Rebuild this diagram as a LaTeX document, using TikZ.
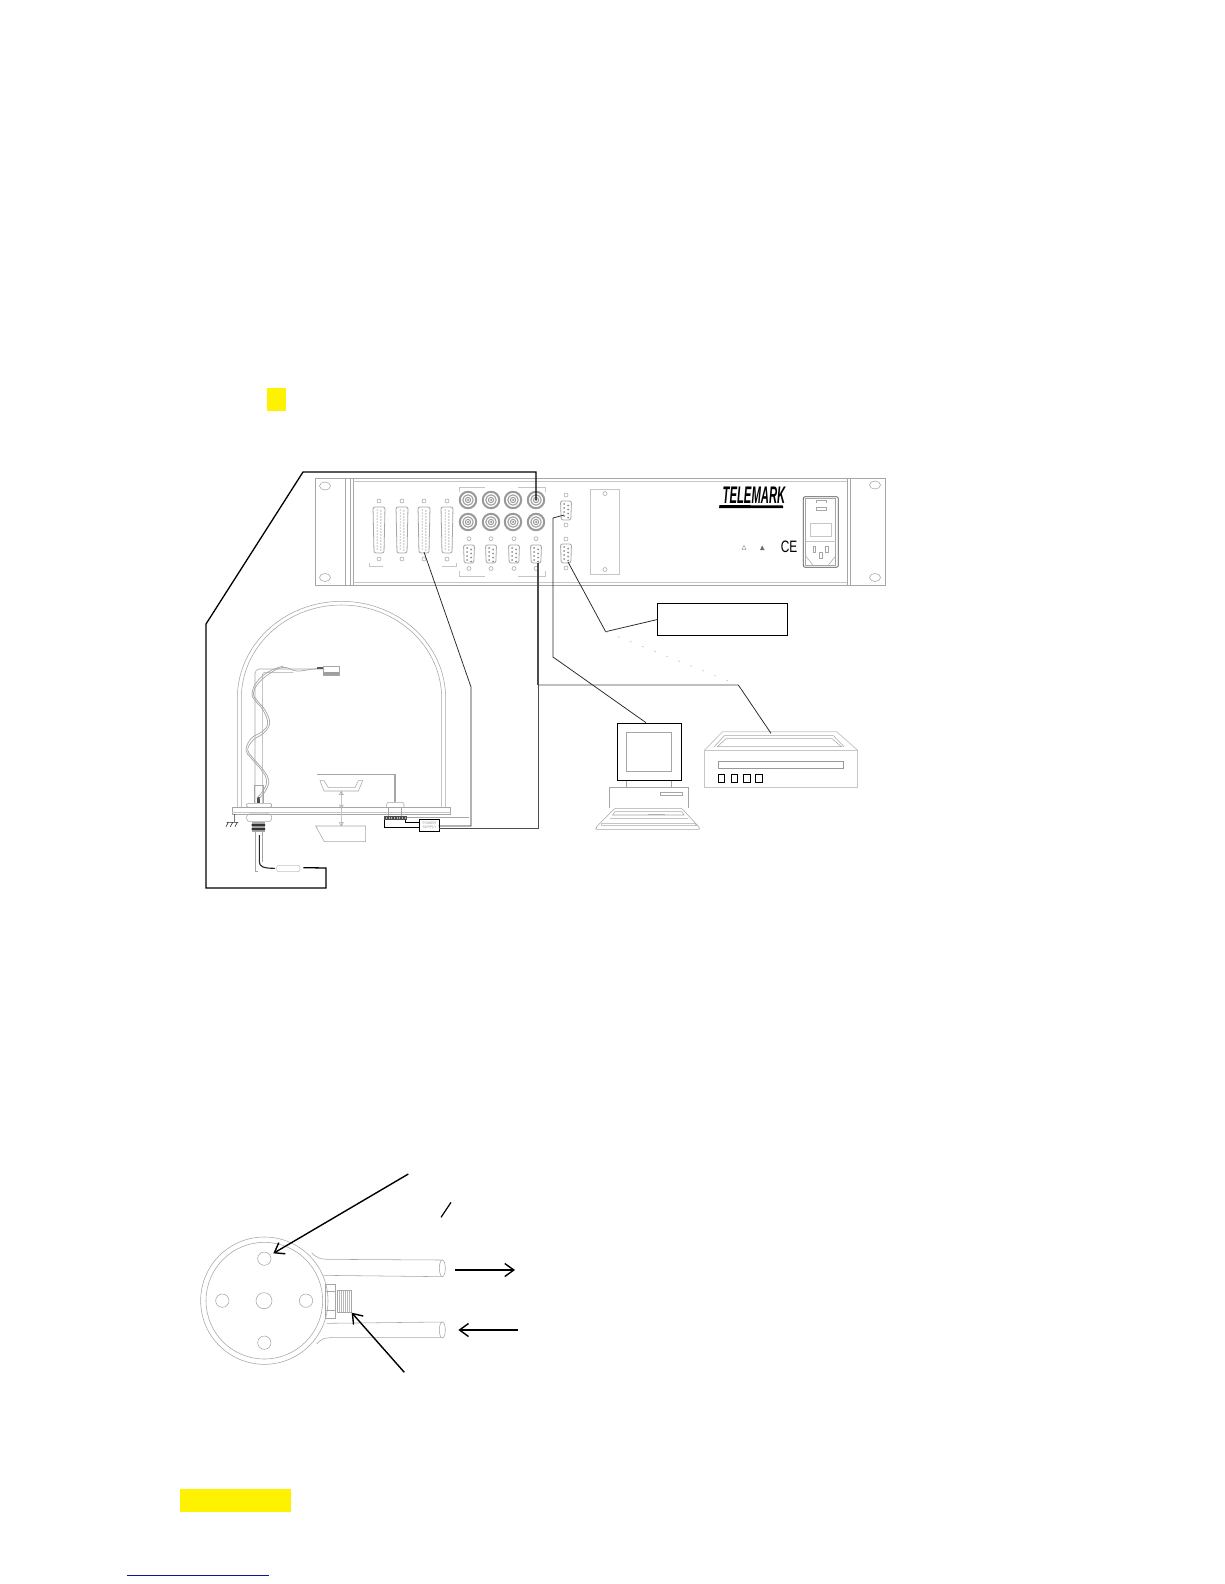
\documentclass[tikz,border=0pt]{standalone}
\usepackage{fontspec}
\setmainfont{Liberation Sans}
\usetikzlibrary{arrows.meta}
\definecolor{linkblue}{RGB}{20,20,150}
\newcommand{\dbbig}[1]{%
  \draw[gray!70,line width=.8pt,rounded corners=2pt] (#1-6,507) -- (#1+6,507) -- (#1+5,553) -- (#1-5,553) -- cycle;
  \foreach \yy in {510,513,...,550}{\fill[gray!80] (#1-1.8,\yy) circle (.7) (#1+1.8,\yy+1) circle (.7);}
  \draw[fine] (#1,501) circle (2) (#1,559) circle (2);}
\newcommand{\dbnine}[3]{%
  \draw[gray!70,line width=.8pt,rounded corners=2pt] (#1-5.5,#2) -- (#1+5.5,#2) -- (#1+4.8,#3) -- (#1-4.8,#3) -- cycle;
  \foreach \yy in {3,7,11,15}{\fill[gray!90] (#1-2,#2+\yy) circle (1) (#1+2,#2+\yy+1.5) circle (1);}}
\newcommand{\bnc}[2]{%
  \draw[gray!80,line width=2pt] (#1,#2) circle (8.2);
  \draw[gray!75,line width=1.1pt] (#1,#2) circle (5.2);
  \draw[gray!80,line width=1pt] (#1,#2) circle (2.6);
  \fill[gray] (#1,#2) circle (1);}
\tikzset{
  fine/.style={draw=gray!70,line width=.55pt},
  faint/.style={draw=gray!45,line width=.6pt},
  wire/.style={draw=black!85,line width=.75pt},
  wirethick/.style={draw=black,line width=1.3pt},
  boxblack/.style={draw=black,line width=1pt},
  callout/.style={draw=black,line width=1.4pt,-{Straight Barb[length=9pt,width=13pt,line width=1.4pt]}},
  zone/.style={shift={(#1)},x=.33333pt,y=-.33333pt}
}
\begin{document}
\begin{tikzpicture}[x=1pt,y=-1pt]
\useasboundingbox (0,0) rectangle (1224,1584);
\fill[white] (0,0) rectangle (1224,1584);
% yellow marks and link line
\fill[yellow] (266.5,388) rectangle (286,411);
\fill[yellow] (180,1488.7) rectangle (291,1512);
\draw[linkblue,line width=.9pt] (127.3,1575) -- (269,1575);

% ---- rack panel
\draw[fine] (315,478) rectangle (885,585);
\draw[fine] (345,478) -- (345,585) (350,478) -- (350,585) (353,478) -- (353,585);
\draw[fine] (847,478) -- (847,585) (850,478) -- (850,585);
\draw[faint] (353,481) -- (847,481) (353,582) -- (847,582);
\foreach \xx/\yy in {325/486,325/577.5,875/485,875/577.5}{\draw[fine] (\xx,\yy) ellipse (5.5 and 4);}
\foreach \xx in {379,402,424,447}{\dbbig{\xx}}
\foreach \xx in {468,491,513,536}{\bnc{\xx}{500}\bnc{\xx}{522}}
\foreach \xx in {469,491,514,536}{\dbnine{\xx}{545}{563}
  \draw[fine] (\xx,538.7) circle (2) (\xx,568.5) circle (2);}
\dbnine{566}{501}{520}\dbnine{566}{544}{563}
\foreach \yy in {495,525,539,568}{\draw[fine] (566,\yy) circle (2);}
\draw[faint] (590,489) rectangle (619,574);
\draw[fine] (605,493.5) circle (2) (605,569.5) circle (2);
\draw[faint] (459,492) -- (459,487) -- (485,487) (518,487) -- (545,487) -- (545,492)
  (459,571) -- (459,576.5) -- (485,576.5) (518,576.5) -- (545,576.5) -- (545,571)
  (369,563) -- (369,566.5) -- (383,566.5) (442,566.5) -- (456,566.5) -- (456,563);
% logo
\node[inner sep=0,anchor=center] (logo) at (754,495.5) {\scalebox{.47}[1]{\fontsize{24}{24}\selectfont\bfseries\itshape TELEMARK}};
\fill[black] (719.5,505) -- (783,505.5) -- (783,508) -- (719,508) -- cycle;
\node[inner sep=0] (ce) at (789,547) {\scalebox{.72}[1]{\fontsize{16.5}{16.5}\selectfont CE}};
\draw[gray!70,line width=.5pt] (744,545.5) -- (746,549.5) -- (742,549.5) -- cycle;
\fill[gray!85!black] (760,550) -- (764.5,550) -- (762.2,545.5) -- cycle;
% power module
\begin{scope}[zone={590,460}]
\draw[gray!60!black,line width=.7pt,rounded corners=2pt] (640,110) rectangle (745,322);
\draw[fine] (647,116) -- (737,116) -- (737,316) -- (647,316) -- cycle;
\draw[fine] (678,128) -- (678,120) -- (708,120) -- (708,128);
\draw[fine] (678,142) rectangle (708,152);
\draw[faint] (660,190) rectangle (725,230);
\draw[faint] (647,245) -- (737,245);
\draw[fine] (669,258) rectangle (676,278) (706,258) rectangle (714,278) (689,278) rectangle (697,296);
\draw[fine] (647,288) -- (668,314) (737,288) -- (716,314);
\end{scope}

% ---- vacuum chamber
\begin{scope}[zone={200,590}]
\draw[fine] (112,652) -- (112,325) arc[start angle=180,end angle=360,x radius=312.5,y radius=291] -- (737,652);
\draw[fine] (124,652) -- (124,325) arc[start angle=180,end angle=360,x radius=300.5,y radius=280] -- (725,652);
\draw[fine] (97,652) rectangle (752,672);
\draw[faint] (97,667) -- (752,667);
% feedthrough & stand
\draw[fine] (165,640) -- (165,250) arc[start angle=180,end angle=270,radius=13] -- (370,237);
\draw[fine] (187,640) -- (187,255) arc[start angle=180,end angle=270,radius=8] -- (280,247);
\draw[fine] (163,640) -- (163,585) -- (190,585) -- (190,640);
\draw[fine,rounded corners=2pt] (140,640) rectangle (215,652);
\draw[fine,rounded corners=3pt] (140,672) rectangle (215,695);
\fill[gray!70] (155,697) rectangle (195,725);
\fill[black!80] (155,702) rectangle (195,708) (155,714) rectangle (195,720);
\fill[gray!60!black] (172,620) rectangle (181,640);
\draw[fine] (165,725) -- (165,843) -- (175,843) (187,725) -- (187,815);
\draw[fine,line width=.7pt] plot[smooth,tension=.7] coordinates {(178,625) (198,600) (206,570) (190,540) (160,505) (143,480) (160,450) (190,430) (209,400) (195,360) (170,330) (160,310) (175,280) (210,250) (250,232) (290,243) (340,237) (370,235)};
\draw[fine,line width=.7pt] plot[smooth,tension=.7] coordinates {(170,625) (192,598) (200,570) (184,540) (154,505) (138,480) (154,445) (186,425) (203,400) (189,360) (164,330) (156,310) (171,275) (206,245) (250,228)};
% head
\draw[fine] (370,230) rectangle (418,255);
\fill[gray!75] (370,247) rectangle (418,255);
\fill[gray!70!black] (350,232) rectangle (370,238);
% ground
\draw[black!80,line width=.6pt] (103,672) -- (103,697) (80,697) -- (115,697) (85,697) -- (78,710) (98,697) -- (91,710) (112,697) -- (105,710);
% shutter
\draw[gray!70,line width=1.1pt] (350,553) -- (585,553) -- (585,637);
\draw[fine] (360,572) -- (372,603) -- (475,603) -- (488,572) -- (475,572) -- (465,593) -- (385,593) -- (372,572) -- cycle;
\draw[faint] (424,605) -- (424,708);
\draw[gray!70,line width=.5pt] (418,614) -- (430,614) -- (424,604) -- cycle (418,645) -- (430,645) -- (424,655) -- cycle (418,698) -- (430,698) -- (424,708) -- cycle;
\draw[fine] (347,708) -- (497,708) -- (497,755) -- (373,755) -- cycle;
% shutter connector
\draw[fine,rounded corners=2pt] (560,652) -- (560,637) -- (612,637) -- (612,652);
\draw[fine] (565,652) rectangle (605,678);
\fill[gray!60!black] (553,678) rectangle (620,690);
\foreach \xx in {558,566,...,615}{\fill[gray!60] (\xx,681) rectangle +(3,6);}
% coax connector
\draw[faint,rounded corners=2pt] (230,826) rectangle (300,845);
\draw[black!85,line width=1.1pt] (178,735) -- (178,815) .. controls (178,830) and (190,835) .. (225,835);
% power supply
\node[boxblack,minimum width=19.4pt,minimum height=11.7pt,inner sep=0,anchor=north west,align=center,text=gray!80,font=\fontsize{3.6}{3.9}\selectfont] (psu) at (658,688) {POWER\\SUPPLY};
\draw[wirethick,line width=.9pt] (553,690) -- (553,712) -- (658,712);
\draw[wirethick,line width=.8pt] (615,690) -- (615,698) -- (658,698);
\draw[fine] (620,683) -- (808,683);
\coordinate (psuA) at (716,708);
\coordinate (psuB) at (716,716);
\coordinate (coax) at (310,833);
\end{scope}

% ---- computer
\begin{scope}[zone={580,590}]
\draw[boxblack] (112,400) rectangle (304,572);
\draw[fine] (139,427) rectangle (275,545);
\draw[fine] (139,572) -- (139,593) (275,572) -- (275,593);
\draw[fine] (88,655) -- (88,593) -- (326,593) -- (326,655);
\draw[fine] (240,608) rectangle (308,617);
\draw[fine,rounded corners=1pt] (48,712) -- (105,655) -- (305,655) -- (358,712) -- (358,718) -- (48,718) -- cycle;
\draw[fine] (105,665) -- (305,665) -- (312,675) -- (98,675) -- cycle;
\draw[fine] (90,685) -- (325,685) (65,700) -- (345,700) (65,707) -- (350,707) (65,700) -- (65,707) (345,700) -- (350,707);
\draw[gray!60,line width=.7pt] (205,673) -- (255,673);
% printer
\draw[faint,line width=.8pt] (373,593) rectangle (833,481);
\draw[faint,line width=.8pt] (373,481) -- (428,425) -- (770,425) -- (833,481);
\draw[fine] (403,470) -- (433,437) -- (760,437) -- (792,470);
\draw[fine] (412,470) -- (438,446) -- (756,446) -- (784,470) -- cycle;
\draw[gray!80,line width=.7pt] (414,514) rectangle (791,536);
\foreach \xx in {414,453,490,526}{\draw[boxblack] (\xx,553) rectangle +(20,24);}
\node[boxblack,anchor=north west,minimum width=130pt,minimum height=32.7pt,inner sep=0] (label) at (232,38) {};
\coordinate (printerTop) at (573,430);
\coordinate (monitorTop) at (198,398);
\coordinate (kneeA) at (77,125);
\coordinate (kneeB) at (475,285);
\end{scope}

% ---- connectors of the upper figure
\coordinate (bncTop) at (536,500);
\coordinate (bigC) at (424,552);
\coordinate (serialA) at (564,515);
\coordinate (serialB) at (568,562);
\coordinate (nineD) at (538,563);
\draw[wirethick] (bncTop) -- (536,472) -- (303,472) -- (206,624) -- (206,888) -- (326,888) -- (326,868) -- (coax);
\draw[gray!60!black,line width=1.1pt] (nineD) -- (538,685);
\draw[gray!60!black,line width=.7pt] (psuB) -| (538,685);
\draw[gray!60!black,line width=.9pt] (538,685) -- (kneeB);
\draw[wire] (kneeB) -- (printerTop);
\draw[wire] (bigC) -- (471,687) -- (471,826) -- (psuA);
\draw[wire] (serialA) -- (553,518) -- (553,657) -- (monitorTop);
\draw[wire] (serialB) -- (kneeA) -- (label.west);
\draw[gray!45,line width=.6pt,dash pattern=on 2pt off 11pt] (kneeA) -- (kneeB);

% ---- sensor head, lower figure
\begin{scope}[zone={190,1160}]
\draw[fine] (223,422) circle (191);
\draw[fine] (223,422) circle (175);
\foreach \xx/\yy/\rr in {223/296/20,97/422/20,222/422/24,348/422/20,223/548/20}{\draw[fine] (\xx,\yy) circle (\rr);}
\draw[fine] (365,278) .. controls (380,295) and (395,298) .. (415,298) -- (755,300);
\draw[fine] (400,346) -- (755,350);
\draw[fine] (757,325) ellipse (9 and 25);
\draw[fine] (410,490) -- (755,486);
\draw[fine] (380,552) .. controls (395,535) and (405,533) .. (425,533) -- (755,533);
\draw[fine] (757,510) ellipse (9 and 24);
\draw[fine] (405,372) rectangle (437,475) (405,395) -- (437,395) (405,450) -- (437,450);
\draw[fine] (443,390) rectangle (485,458);
\foreach \xx in {449,455,...,480}{\draw[gray!55,line width=.45pt] (\xx,392) -- (\xx,456);}
\coordinate (holeTop) at (250,280);
\coordinate (fitting) at (485,458);
\coordinate (calloutA) at (655,42);
\coordinate (calloutB) at (643,637);
\coordinate (outA) at (795,330);
\coordinate (outB) at (975,330);
\coordinate (inA) at (985,510);
\coordinate (inB) at (805,510);
\coordinate (slashA) at (783,127);
\coordinate (slashB) at (753,172);
\end{scope}
\draw[callout] (calloutA) -- (holeTop);
\draw[callout] (calloutB) -- (fitting);
\draw[callout] (outA) -- (outB);
\draw[callout] (inA) -- (inB);
\draw[draw=black,line width=1.2pt] (slashA) -- (slashB);
\end{tikzpicture}
\end{document}
